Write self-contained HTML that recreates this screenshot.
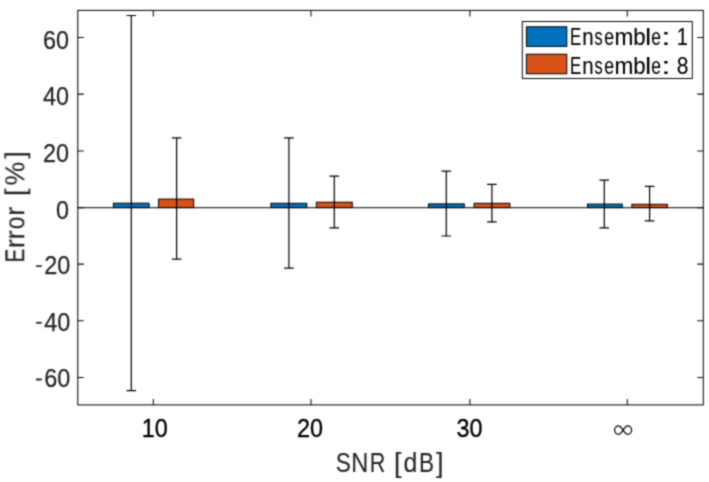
<!DOCTYPE html>
<html><head><meta charset="utf-8"><style>
html,body{margin:0;padding:0;background:#fff;width:709px;height:482px;overflow:hidden}
svg{display:block}
</style></head><body>
<svg width="709" height="482" viewBox="0 0 709 482"><defs><filter id="bl" x="0" y="0" width="1" height="1" color-interpolation-filters="sRGB"><feConvolveMatrix order="3" kernelMatrix="1 3 1 3 9 3 1 3 1" edgeMode="duplicate"/></filter></defs><g filter="url(#bl)"><rect x="0" y="0" width="709" height="482" fill="#fff"/>
<line x1="77.8" y1="207.6" x2="703.3" y2="207.6" stroke="#333" stroke-width="1.05"/>
<rect x="113.40" y="203.20" width="35.70" height="4.40" fill="#0072BD" stroke="#000" stroke-width="1"/>
<rect x="158.60" y="199.10" width="35.10" height="8.50" fill="#D95319" stroke="#000" stroke-width="1"/>
<rect x="270.90" y="203.30" width="35.90" height="4.30" fill="#0072BD" stroke="#000" stroke-width="1"/>
<rect x="316.40" y="202.20" width="35.90" height="5.40" fill="#D95319" stroke="#000" stroke-width="1"/>
<rect x="428.50" y="203.90" width="35.80" height="3.70" fill="#0072BD" stroke="#000" stroke-width="1"/>
<rect x="474.10" y="203.30" width="35.80" height="4.30" fill="#D95319" stroke="#000" stroke-width="1"/>
<rect x="587.50" y="204.10" width="34.80" height="3.50" fill="#0072BD" stroke="#000" stroke-width="1"/>
<rect x="631.90" y="204.30" width="35.50" height="3.30" fill="#D95319" stroke="#000" stroke-width="1"/>
<path d="M131.3 15.5V390.7M126.50 15.5H136.10M126.50 390.7H136.10" stroke="#000" stroke-width="1.2" fill="none"/>
<path d="M176.6 137.8V259.05M171.80 137.8H181.40M171.80 259.05H181.40" stroke="#000" stroke-width="1.2" fill="none"/>
<path d="M288.9 137.8V268.2M284.10 137.8H293.70M284.10 268.2H293.70" stroke="#000" stroke-width="1.2" fill="none"/>
<path d="M334.3 176.1V227.8M329.50 176.1H339.10M329.50 227.8H339.10" stroke="#000" stroke-width="1.2" fill="none"/>
<path d="M446.3 171.05V236.0M441.50 171.05H451.10M441.50 236.0H451.10" stroke="#000" stroke-width="1.2" fill="none"/>
<path d="M491.9 184.3V221.8M487.10 184.3H496.70M487.10 221.8H496.70" stroke="#000" stroke-width="1.2" fill="none"/>
<path d="M604.3 180.2V227.9M599.50 180.2H609.10M599.50 227.9H609.10" stroke="#000" stroke-width="1.2" fill="none"/>
<path d="M649.6 186.4V220.9M644.80 186.4H654.40M644.80 220.9H654.40" stroke="#000" stroke-width="1.2" fill="none"/>
<rect x="77.8" y="10.4" width="625.50" height="394.50" fill="none" stroke="#0a0a0a" stroke-width="1.05"/>
<path d="M77.8 37.4H83.80M703.3 37.4H697.30M77.8 94.1H83.80M703.3 94.1H697.30M77.8 150.9H83.80M703.3 150.9H697.30M77.8 207.6H83.80M703.3 207.6H697.30M77.8 264.1H83.80M703.3 264.1H697.30M77.8 320.8H83.80M703.3 320.8H697.30M77.8 377.5H83.80M703.3 377.5H697.30M153.3 404.9V398.90M153.3 10.4V16.40M311.0 404.9V398.90M311.0 10.4V16.40M469.9 404.9V398.90M469.9 10.4V16.40M627.3 404.9V398.90M627.3 10.4V16.40" stroke="#0a0a0a" stroke-width="1.05" fill="none"/>
<rect x="522.3" y="21.5" width="170.0" height="57.0" fill="#fff" stroke="#0a0a0a" stroke-width="1.0"/>
<rect x="526.4" y="26.8" width="40.4" height="19.6" fill="#0072BD" stroke="#000" stroke-width="1"/>
<rect x="526.4" y="54.2" width="40.4" height="19.6" fill="#D95319" stroke="#000" stroke-width="1"/>
<g font-family="Liberation Sans, sans-serif" fill="#000" stroke="#000" stroke-width="0.12">
<text transform="translate(569.92,45.10) scale(0.730,1)" font-size="23.0">E</text><text transform="translate(582.14,45.10) scale(0.890,1)" font-size="23.0">n</text><text transform="translate(594.45,45.10) scale(0.708,1)" font-size="23.0">s</text><text transform="translate(604.35,45.10) scale(0.769,1)" font-size="23.0">e</text><text transform="translate(614.59,45.10) scale(0.987,1)" font-size="23.0">m</text><text transform="translate(633.27,45.10) scale(0.967,1)" font-size="23.0">b</text><text transform="translate(645.24,45.10) scale(1.138,1)" font-size="23.0">l</text><text transform="translate(651.36,45.10) scale(0.760,1)" font-size="23.0">e</text><text transform="translate(661.23,45.10) scale(1.461,1)" font-size="23.0">:</text><text transform="translate(676.66,45.10) scale(0.877,1)" font-size="23.0">1</text>
<text transform="translate(569.92,73.50) scale(0.730,1)" font-size="23.0">E</text><text transform="translate(582.14,73.50) scale(0.890,1)" font-size="23.0">n</text><text transform="translate(594.45,73.50) scale(0.708,1)" font-size="23.0">s</text><text transform="translate(604.35,73.50) scale(0.769,1)" font-size="23.0">e</text><text transform="translate(614.59,73.50) scale(0.987,1)" font-size="23.0">m</text><text transform="translate(633.27,73.50) scale(0.967,1)" font-size="23.0">b</text><text transform="translate(645.24,73.50) scale(1.138,1)" font-size="23.0">l</text><text transform="translate(651.36,73.50) scale(0.760,1)" font-size="23.0">e</text><text transform="translate(661.23,73.50) scale(1.461,1)" font-size="23.0">:</text><text transform="translate(676.68,73.50) scale(0.917,1)" font-size="23.0">8</text>
</g>
<g font-family="Liberation Sans, sans-serif" fill="#262626" stroke="#262626" stroke-width="0.25">
<text x="69.0" y="48.50" font-size="26.0" text-anchor="end" textLength="26.02" lengthAdjust="spacingAndGlyphs">60</text>
<text x="69.0" y="105.20" font-size="26.0" text-anchor="end" textLength="26.02" lengthAdjust="spacingAndGlyphs">40</text>
<text x="69.0" y="162.00" font-size="26.0" text-anchor="end" textLength="26.02" lengthAdjust="spacingAndGlyphs">20</text>
<text x="69.0" y="218.70" font-size="26.0" text-anchor="end" textLength="13.01" lengthAdjust="spacingAndGlyphs">0</text>
<text x="70.30" y="273.90" font-size="26.0" text-anchor="end" textLength="26.02" lengthAdjust="spacingAndGlyphs">20</text>
<rect x="36.2" y="265.30" width="5.5" height="1.6"/>
<text x="70.30" y="330.60" font-size="26.0" text-anchor="end" textLength="26.02" lengthAdjust="spacingAndGlyphs">40</text>
<rect x="36.2" y="322.00" width="5.5" height="1.6"/>
<text x="70.30" y="387.30" font-size="26.0" text-anchor="end" textLength="26.02" lengthAdjust="spacingAndGlyphs">60</text>
<rect x="36.2" y="378.70" width="5.5" height="1.6"/>
</g>
<g font-family="Liberation Sans, sans-serif" fill="#000" stroke="#000" stroke-width="0.35">
<text x="154.80" y="436.5" font-size="26.0" text-anchor="middle" textLength="26.02" lengthAdjust="spacingAndGlyphs">10</text>
<text x="309.90" y="436.5" font-size="26.0" text-anchor="middle" textLength="26.02" lengthAdjust="spacingAndGlyphs">20</text>
<text x="469.40" y="436.5" font-size="26.0" text-anchor="middle" textLength="26.02" lengthAdjust="spacingAndGlyphs">30</text>
</g>
<g font-family="Liberation Sans, sans-serif" fill="#262626" stroke="#262626" stroke-width="0.12">
<text transform="translate(335.77,471.90) scale(0.830,1)" font-size="27.2">S</text><text transform="translate(351.16,471.90) scale(0.869,1)" font-size="27.2">N</text><text transform="translate(369.73,471.90) scale(0.793,1)" font-size="27.2">R</text><text transform="translate(393.96,471.90) scale(1.000,1)" font-size="27.2">[</text><text transform="translate(403.55,471.90) scale(0.916,1)" font-size="27.2">d</text><text transform="translate(418.95,471.90) scale(0.829,1)" font-size="27.2">B</text><text transform="translate(436.08,471.90) scale(1.000,1)" font-size="27.2">]</text>
<g transform="translate(24.3,261.0) rotate(-90)"><text transform="translate(-1.40,0.00) scale(0.760,1)" font-size="27.2">E</text><text transform="translate(12.77,0.00) scale(1.015,1)" font-size="27.2">r</text><text transform="translate(21.47,0.00) scale(1.015,1)" font-size="27.2">r</text><text transform="translate(31.65,0.00) scale(0.833,1)" font-size="27.2">o</text><text transform="translate(45.19,0.00) scale(1.000,1)" font-size="27.2">r</text><text transform="translate(64.96,0.00) scale(1.000,1)" font-size="27.2">[</text><text transform="translate(75.55,0.00) scale(0.980,1)" font-size="27.2">%</text><text transform="translate(102.18,0.00) scale(1.000,1)" font-size="27.2">]</text></g>
</g>
<path d="M623.1 430.1C624.50 428.10 625.55 425.90 627.55 425.90C629.95 425.90 631.60 427.80 631.60 430.10C631.60 432.40 629.95 434.30 627.55 434.30C625.55 434.30 624.50 432.10 623.10 430.10C621.70 428.10 620.65 425.90 618.65 425.90C616.25 425.90 614.60 427.80 614.60 430.10C614.60 432.40 616.25 434.30 618.65 434.30C620.65 434.30 621.70 432.10 623.10 430.10Z" fill="none" stroke="#000" stroke-width="1.2"/></g></svg>
</body></html>
